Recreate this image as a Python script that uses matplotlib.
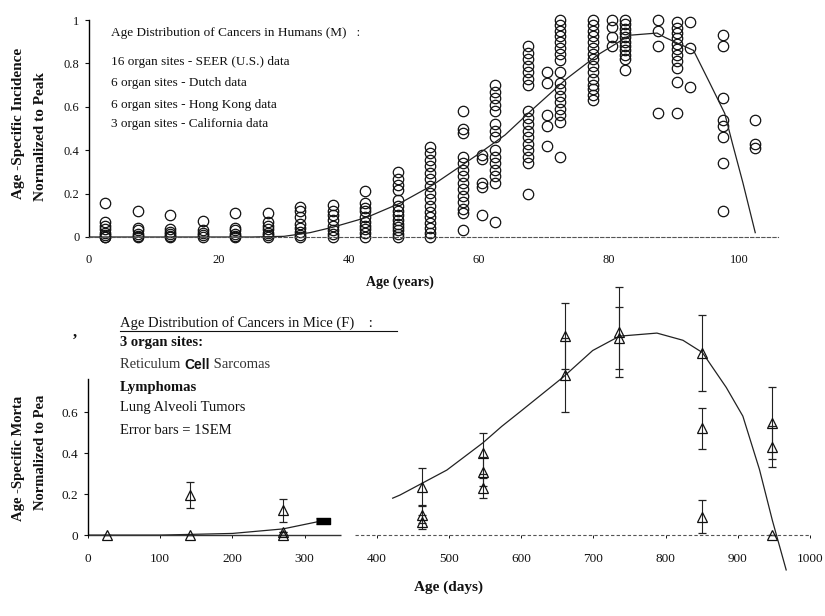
import matplotlib
matplotlib.use("Agg")
import matplotlib.pyplot as plt
from matplotlib.lines import Line2D

plt.rcParams['font.family'] = ['Liberation Serif', 'DejaVu Serif']

# ---- humans: age-specific incidence (normalized to peak), one column per age bin
human_ages = [2.5, 7.5, 12.5, 17.5, 22.5, 27.5, 32.5, 37.5, 42.5, 47.5, 52.5, 57.5,
              60.5, 62.5, 67.5, 70.5, 72.5, 77.5, 80.5, 82.5, 87.5, 90.5, 92.5, 97.5, 102.5]
human_vals = [
    [0.155, 0.07, 0.05, 0.035, 0.02, 0.01, 0.0, 0.0],
    [0.12, 0.04, 0.03, 0.015, 0.005, 0.0],
    [0.10, 0.035, 0.025, 0.015, 0.005, 0.0],
    [0.073, 0.03, 0.02, 0.01, 0.0],
    [0.11, 0.04, 0.03, 0.015, 0.005, 0.0],
    [0.11, 0.07, 0.05, 0.035, 0.02, 0.01, 0.0],
    [0.14, 0.12, 0.09, 0.06, 0.04, 0.025, 0.01, 0.0],
    [0.147, 0.12, 0.10, 0.08, 0.05, 0.03, 0.015, 0.0],
    [0.21, 0.155, 0.135, 0.12, 0.09, 0.07, 0.05, 0.035, 0.02, 0.0],
    [0.30, 0.265, 0.24, 0.215, 0.17, 0.145, 0.12, 0.10, 0.08, 0.06, 0.045, 0.03, 0.015, 0.0],
    [0.415, 0.385, 0.355, 0.325, 0.295, 0.265, 0.235, 0.205, 0.175, 0.145, 0.115, 0.09, 0.065, 0.04, 0.02, 0.0],
    [0.58, 0.50, 0.48, 0.37, 0.34, 0.31, 0.28, 0.25, 0.22, 0.19, 0.16, 0.13, 0.11, 0.03],
    [0.38, 0.36, 0.25, 0.23, 0.10],
    [0.70, 0.67, 0.64, 0.61, 0.58, 0.52, 0.49, 0.46, 0.40, 0.37, 0.34, 0.31, 0.28, 0.25, 0.07],
    [0.88, 0.85, 0.82, 0.79, 0.76, 0.73, 0.70, 0.58, 0.55, 0.52, 0.49, 0.46, 0.43, 0.40, 0.37, 0.34, 0.20],
    [0.76, 0.71, 0.56, 0.51, 0.42],
    [1.0, 0.975, 0.95, 0.925, 0.90, 0.87, 0.845, 0.815, 0.76, 0.71, 0.68, 0.65, 0.62, 0.59, 0.56, 0.53, 0.37],
    [1.0, 0.975, 0.95, 0.925, 0.90, 0.87, 0.845, 0.82, 0.79, 0.76, 0.73, 0.70, 0.68, 0.655, 0.63],
    [1.0, 0.97, 0.92, 0.88],
    [1.0, 0.98, 0.96, 0.94, 0.92, 0.90, 0.88, 0.86, 0.84, 0.82, 0.77],
    [1.0, 0.95, 0.88, 0.57],
    [0.99, 0.965, 0.94, 0.915, 0.89, 0.865, 0.84, 0.81, 0.78, 0.715, 0.57],
    [0.99, 0.87, 0.69],
    [0.93, 0.88, 0.64, 0.54, 0.51, 0.46, 0.34, 0.12],
    [0.54, 0.43, 0.41],
]
# fitted curve
human_fit_age = [0, 25, 30, 34, 37.5, 42.7, 47.8, 52.9, 59.8, 64, 68.3, 73.5, 78.3, 83.2,
                 87.4, 88.6, 93, 95.5, 97.8, 99, 100.6, 102.5]
human_fit_val = [0, 0, 0.003, 0.02, 0.045, 0.09, 0.155, 0.24, 0.38, 0.47, 0.59, 0.73, 0.84, 0.93,
                 0.94, 0.92, 0.86, 0.71, 0.57, 0.43, 0.25, 0.02]

# ---- mice: age-specific mortality, mean +- 1 SEM
mice_days = [26, 141, 141, 270, 270, 270, 462, 462, 462, 547, 547, 547,
             660, 660, 735, 735, 850, 850, 850, 947, 947, 947]
mice_vals = [0.0, 0.195, 0.0, 0.12, 0.015, 0.0, 0.235, 0.10, 0.065, 0.40, 0.31, 0.23,
             0.97, 0.78, 0.99, 0.96, 0.89, 0.52, 0.09, 0.545, 0.43, 0.0]
mice_sem = [0, 0.065, 0, 0.055, 0, 0, 0.09, 0.04, 0.035, 0.10, 0.07, 0.05,
            0.16, 0.18, 0.22, 0.15, 0.185, 0.10, 0.08, 0.175, 0.10, 0]
mice_fit1_day = [0, 100, 200, 270, 325]
mice_fit1_val = [0, 0.0, 0.008, 0.03, 0.07]
mice_fit2_day = [422, 432, 497, 547, 573, 598, 658, 699, 736, 788, 824, 851, 884, 907, 930, 948, 967]
mice_fit2_val = [0.18, 0.195, 0.317, 0.45, 0.53, 0.60, 0.77, 0.90, 0.97, 0.985, 0.95, 0.89,
                 0.72, 0.58, 0.32, 0.07, -0.17]

ink = '#111111'
W, H = 825, 616
fig = plt.figure(figsize=(8.25, 6.16), dpi=100)

# ================= top panel =================
ax1 = fig.add_axes([89 / W, 1 - 243.5 / H, 689 / W, (243.5 - 15.7) / H])
ax1.set_facecolor('none')
ax1.set_xlim(0, 106)
ax1.set_ylim(-0.03, 1.02)
for a, vals in zip(human_ages, human_vals):
    ax1.plot([a] * len(vals), vals, 'o', ms=7.5, mfc='none', mec=ink, mew=0.9,
             linestyle='none', clip_on=False)
ax1.plot(human_fit_age, human_fit_val, color='#222222', lw=0.9)

ax1.spines['top'].set_visible(False)
ax1.spines['right'].set_visible(False)
ax1.spines['left'].set_bounds(0, 1)
ax1.spines['left'].set_linewidth(1.0)
ax1.spines['bottom'].set_position(('data', 0))
ax1.spines['bottom'].set_linestyle((0, (3, 2)))
ax1.spines['bottom'].set_linewidth(0.8)
ax1.spines['bottom'].set_color('#555555')
ax1.set_xticks([0, 20, 40, 60, 80, 100])
ax1.set_xticklabels(['0', '20', '40', '60', '80', '100'])
ax1.set_yticks([0, 0.2, 0.4, 0.6, 0.8, 1])
ax1.set_yticklabels(['0', '0.2', '0.4', '0.6', '0.8', '1'])
ax1.tick_params(axis='x', length=0, pad=12, labelsize=9, colors=ink)
ax1.tick_params(axis='y', length=3, width=0.8, pad=4, labelsize=9, colors=ink)

human_notes = ["Age Distribution of Cancers in Humans (M)   :",
               "16 organ sites - SEER (U.S.) data",
               "6 organ sites - Dutch data",
               "6 organ sites - Hong Kong data",
               "3 organ sites - California data"]
for txt, yp in zip(human_notes, [33, 62, 83, 105, 124]):
    fig.text(111 / W, 1 - yp / H, txt, fontsize=9.5, color=ink, va='center', ha='left')

fig.text(400 / W, 1 - 282 / H, "Age (years)", fontsize=10, fontweight='bold', color=ink,
         ha='center', va='center')
fig.text(19 / W, 1 - 123 / H, "Age -Specific Incidence", rotation=90, fontsize=11,
         fontweight='bold', color=ink, ha='center', va='center')
fig.text(41 / W, 1 - 137 / H, "Normalized to Peak", rotation=90, fontsize=11,
         fontweight='bold', color=ink, ha='center', va='center')

# ================= bottom panel =================
ax2 = fig.add_axes([88 / W, 1 - 613 / H, 722 / W, (613 - 289) / H])
ax2.set_facecolor('none')
ax2.set_xlim(0, 1000)
ax2.set_ylim(-0.38, 1.2)
ax2.errorbar(mice_days, mice_vals, yerr=mice_sem, fmt='^', ms=7, mfc='none', mec=ink, mew=0.9,
             ecolor='#222222', elinewidth=0.8, capsize=3, capthick=0.8, clip_on=False)
ax2.plot(mice_fit1_day, mice_fit1_val, color='#222222', lw=0.9)
ax2.plot(mice_fit1_day[-1:], mice_fit1_val[-1:], linestyle='none', color='black',
         marker=[(-1, -0.45), (1, -0.45), (1, 0.45), (-1, 0.45)], ms=10)
ax2.plot(mice_fit2_day, mice_fit2_val, color='#222222', lw=0.9, clip_on=False)

ax2.spines['top'].set_visible(False)
ax2.spines['right'].set_visible(False)
ax2.spines['left'].set_bounds(0, 0.76)
ax2.spines['left'].set_linewidth(1.0)
ax2.spines['bottom'].set_position(('data', 0))
ax2.spines['bottom'].set_visible(False)
ax2.hlines(0, 0, 350, color='#333333', lw=1.0)
ax2.hlines(0, 370, 1005, color='#555555', lw=0.8, linestyles=(0, (3, 2)))
ax2.set_xticks(range(0, 1001, 100))
ax2.set_xticklabels([str(v) for v in range(0, 1001, 100)])
ax2.set_yticks([0, 0.2, 0.4, 0.6])
ax2.set_yticklabels(['0', '0.2', '0.4', '0.6'])
ax2.tick_params(axis='x', length=2, width=0.7, pad=11, labelsize=9.5, colors=ink)
ax2.tick_params(axis='y', length=3, width=0.8, pad=4, labelsize=9.5, colors=ink)
fig.text(75 / W, 1 - 333 / H, ",", fontsize=12, fontweight='bold', color=ink,
         ha='center', va='center')

fig.text(448 / W, 1 - 587 / H, "Age (days)", fontsize=11, fontweight='bold', color=ink,
         ha='center', va='center')
fig.text(19 / W, 1 - 521 / H, "Age -Specific Morta", rotation=90, fontsize=10.5,
         fontweight='bold', color=ink, ha='center', va='bottom')
fig.text(41 / W, 1 - 510 / H, "Normalized to Pea", rotation=90, fontsize=10.5,
         fontweight='bold', color=ink, ha='center', va='bottom')

# annotation block of the mice panel
x0 = 120 / W
fig.text(x0, 1 - 323 / H, "Age Distribution of Cancers in Mice (F)    :", fontsize=10.5,
         color=ink, va='center')
fig.add_artist(Line2D([120 / W, 397 / W], [1 - 331 / H, 1 - 331 / H], color=ink, lw=0.8))
fig.text(x0, 1 - 343 / H, "3 organ sites:", fontsize=10.5, fontweight='bold', color=ink, va='center')

renderer = fig.canvas.get_renderer()
t = fig.text(x0, 1 - 365 / H, "Reticulum ", fontsize=10.5, color='#333333', va='center')
bb = t.get_window_extent(renderer)
t = fig.text(bb.x1 / fig.bbox.width, 1 - 365 / H, "Cell", fontsize=10, fontweight='bold',
             family='Liberation Sans', color=ink, va='center')
bb = t.get_window_extent(renderer)
fig.text(bb.x1 / fig.bbox.width, 1 - 365 / H, " Sarcomas", fontsize=10.5, color='#333333', va='center')

fig.text(x0, 1 - 387 / H, "Lymphomas", fontsize=10.5, fontweight='bold', color=ink, va='center')
fig.text(x0, 1 - 408 / H, "Lung Alveoli Tumors", fontsize=10.5, color=ink, va='center')
fig.text(x0, 1 - 430 / H, "Error bars = 1SEM", fontsize=10.5, color=ink, va='center')

fig.savefig("out.png", dpi=100)
